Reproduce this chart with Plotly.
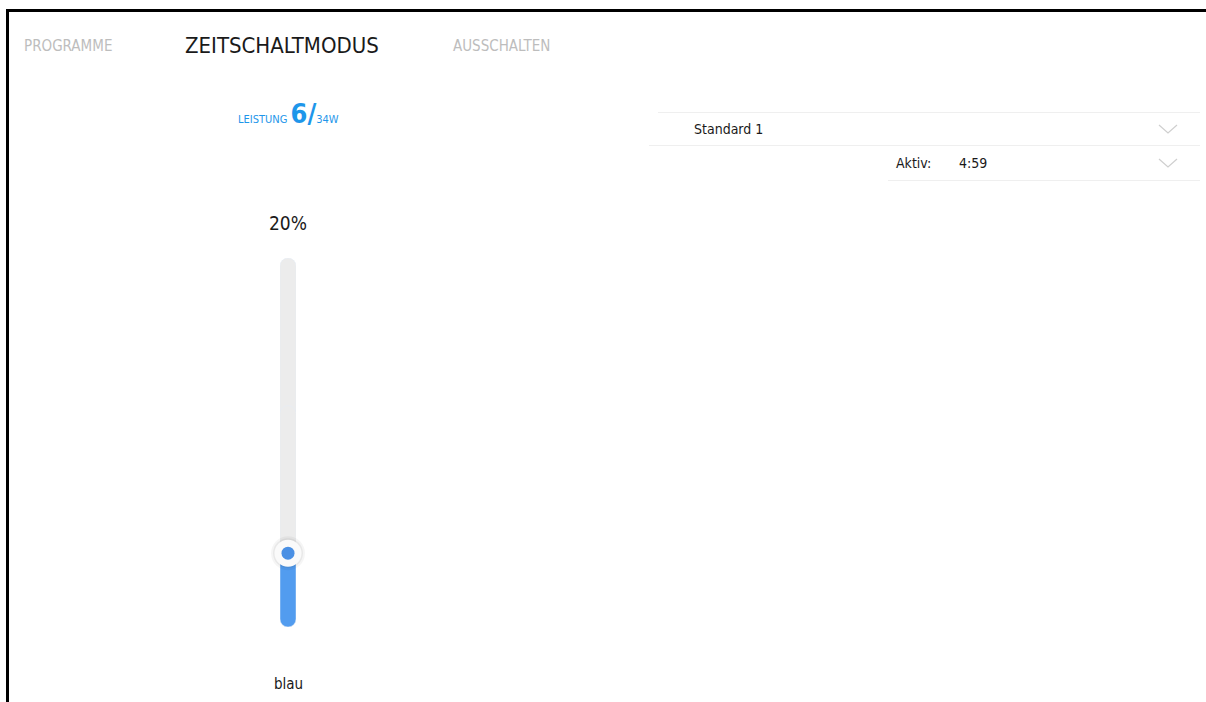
import plotly.graph_objects as go

# ---- data ----
tabs = ["PROGRAMME", "ZEITSCHALTMODUS", "AUSSCHALTEN"]
tab_x = [68, 282, 501]
active_tab = 1
power_label = "LEISTUNG"
power_now = 6
power_max = 34
slider_value = [20]
slider_max = 100
slider_name = ["blau"]
program_name = "Standard 1"
active_label = "Aktiv:"
active_time = "4:59"

W, H = 1206, 702
FONT = "Liberation Sans Narrow, DejaVu Sans Condensed, Roboto, sans-serif"
BLUE = "#1e96ea"

fig = go.Figure()

# slider track (two overlapping halves, each rounded at its far end)
fig.add_trace(go.Bar(x=[0], y=[slider_max * 0.6], base=[slider_max * 0.4], width=[1],
                     marker=dict(color="#ececec", cornerradius="50%"),
                     xaxis="x2", yaxis="y2", hoverinfo="skip", showlegend=False))
fig.add_trace(go.Bar(x=[0], y=[-slider_max * 0.6], base=[slider_max * 0.6], width=[1],
                     marker=dict(color="#ececec", cornerradius="50%"),
                     xaxis="x2", yaxis="y2", hoverinfo="skip", showlegend=False))
# slider fill
fig.add_trace(go.Bar(x=[0], y=[-slider_value[0]], base=slider_value, width=[1],
                     marker=dict(color="#529cef", cornerradius="50%"),
                     xaxis="x2", yaxis="y2", hoverinfo="skip", showlegend=False))
# knob shadow + knob + dot
fig.add_trace(go.Scatter(x=[0], y=slider_value, mode="markers", xaxis="x2", yaxis="y2",
                         marker=dict(size=34, color="rgba(0,0,0,0.04)", line=dict(width=0)),
                         hoverinfo="skip", showlegend=False, cliponaxis=False))
fig.add_trace(go.Scatter(x=[0], y=slider_value, mode="markers", xaxis="x2", yaxis="y2",
                         marker=dict(size=30, color="rgba(0,0,0,0.05)", line=dict(width=0)),
                         hoverinfo="skip", showlegend=False, cliponaxis=False))
fig.add_trace(go.Scatter(x=[0], y=slider_value, mode="markers", xaxis="x2", yaxis="y2",
                         marker=dict(size=27, color="#fafafa", line=dict(width=0)),
                         hoverinfo="skip", showlegend=False, cliponaxis=False))
fig.add_trace(go.Scatter(x=[0], y=slider_value, mode="markers", xaxis="x2", yaxis="y2",
                         marker=dict(size=13, color="#4a90e4", line=dict(width=0)),
                         hoverinfo="skip", showlegend=False, cliponaxis=False))

shapes = []
# frame border
shapes.append(dict(type="line", xref="x", yref="y", x0=6, x1=W, y0=10.5, y1=10.5,
                   line=dict(color="#000", width=3)))
shapes.append(dict(type="line", xref="x", yref="y", x0=7.5, x1=7.5, y0=9, y1=H,
                   line=dict(color="#000", width=3)))
# list separators
for (x0, y0) in [(658, 112.5), (649, 145.5), (888, 180.5)]:
    shapes.append(dict(type="line", xref="x", yref="y", x0=x0, x1=1200, y0=y0, y1=y0,
                       line=dict(color="#efefef", width=1)))
# chevrons
for cy in [129, 163]:
    shapes.append(dict(type="path", xref="x", yref="y",
                       path=f"M 1159 {cy-4} L 1168 {cy+4} L 1177 {cy-4}",
                       line=dict(color="#cfcfcf", width=1.2)))

annotations = []
for i, t in enumerate(tabs):
    annotations.append(dict(x=tab_x[i], y=46 if i != active_tab else 45, xref="x", yref="y", text=t,
                            showarrow=False, xanchor="center", yanchor="middle",
                            font=dict(family=FONT, size=22 if i == active_tab else 15,
                                      color="#1a1a1a" if i == active_tab else "#bdbdbd")))
annotations.append(dict(x=288, y=113, xref="x", yref="y", showarrow=False, xanchor="center", yanchor="middle",
                        text=(f"<span style='font-size:11px'>{power_label}</span> "
                              f"<b style='font-size:27px'>{power_now}/</b>"
                              f"<span style='font-size:11px'>{power_max}W</span>"),
                        font=dict(family=FONT, size=11, color=BLUE)))
annotations.append(dict(x=288, y=223, xref="x", yref="y", showarrow=False, xanchor="center", yanchor="middle",
                        text=f"{slider_value[0]}%", font=dict(family=FONT, size=19, color="#1a1a1a")))
annotations.append(dict(x=288, y=684, xref="x", yref="y", showarrow=False, xanchor="center", yanchor="middle",
                        text=slider_name[0], font=dict(family=FONT, size=15, color="#1a1a1a")))
annotations.append(dict(x=692, y=129, xref="x", yref="y", showarrow=False, xanchor="left", yanchor="middle",
                        text=program_name, font=dict(family=FONT, size=14, color="#1a1a1a")))
annotations.append(dict(x=933, y=163, xref="x", yref="y", showarrow=False, xanchor="right", yanchor="middle",
                        text=active_label, font=dict(family=FONT, size=14, color="#1a1a1a")))
annotations.append(dict(x=957, y=163, xref="x", yref="y", showarrow=False, xanchor="left", yanchor="middle",
                        text=active_time, font=dict(family=FONT, size=14, color="#1a1a1a")))

# track pixel geometry
trk_x0, trk_x1 = 280, 296
trk_top, trk_bot = 258, 627

fig.update_layout(
    width=W, height=H, autosize=False,
    margin=dict(l=0, r=0, t=0, b=0),
    paper_bgcolor="white", plot_bgcolor="rgba(0,0,0,0)",
    barmode="overlay", showlegend=False,
    xaxis=dict(range=[0, W], visible=False, fixedrange=True),
    yaxis=dict(range=[H, 0], visible=False, fixedrange=True),
    xaxis2=dict(domain=[trk_x0 / W, trk_x1 / W], range=[-0.5, 0.5], visible=False, anchor="y2"),
    yaxis2=dict(domain=[1 - trk_bot / H, 1 - trk_top / H], range=[0, slider_max], visible=False, anchor="x2"),
    shapes=shapes, annotations=annotations,
)

fig.write_html("out.html", config={"displayModeBar": False},
               post_script="document.body.style.margin='0';")
